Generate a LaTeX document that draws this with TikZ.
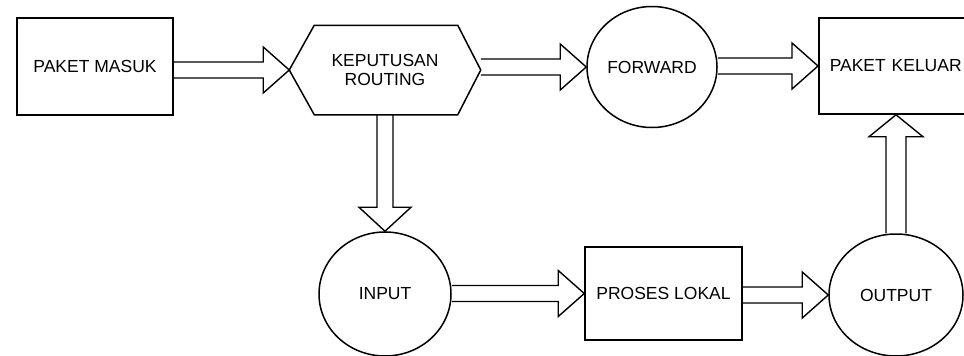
\documentclass[tikz,border=0pt]{standalone}
\usepackage{fontspec}
\setmainfont{Liberation Sans}
\usetikzlibrary{calc,shapes.geometric}
\newcommand\hblockarrow[2]{\draw[blk] let \p1=(#1.east), \p2=(#2.west) in
  (\x1,\y2+8pt) -- (\x2-26pt,\y2+8pt) -- (\x2-26pt,\y2+23pt) -- (\x2,\y2)
  -- (\x2-26pt,\y2-23pt) -- (\x2-26pt,\y2-8pt) -- (\x1,\y2-8pt);}
\newcommand\dblockarrow[2]{\draw[blk] let \p1=(#1.south), \p2=(#2.north) in
  (\x1-8pt,\y1) -- (\x1-8pt,\y2+24pt) -- (\x1-26pt,\y2+24pt) -- (\x1,\y2)
  -- (\x1+26pt,\y2+24pt) -- (\x1+8pt,\y2+24pt) -- (\x1+8pt,\y1);}
\newcommand\ublockarrow[2]{\draw[blk] let \p1=(#1.north), \p2=(#2.south) in
  (\x1-10pt,\y1) -- (\x1-10pt,\y2-22pt) -- (\x1-27pt,\y2-22pt) -- (\x1,\y2)
  -- (\x1+27pt,\y2-22pt) -- (\x1+10pt,\y2-22pt) -- (\x1+10pt,\y1);}
\begin{document}
\begin{tikzpicture}[x=1pt,y=-1pt,line width=1.5pt,
  lbl/.style={font=\fontsize{17.5}{18.5}\selectfont},
  boxnode/.style={draw,rectangle,lbl,inner sep=0pt},
  circnode/.style={draw,ellipse,lbl,inner sep=0pt},
  blk/.style={draw,line width=1.4pt,line join=miter}]
\useasboundingbox (0,0) rectangle (964,356);

\node[boxnode,minimum width=156pt,minimum height=97pt] (masuk) at (95,66.5) {PAKET MASUK};
\node[lbl,align=center,minimum width=190pt,minimum height=88pt,inner sep=0pt] (routing) at (385,70) {KEPUTUSAN\\ROUTING};
\draw (routing.west) -- ($(routing.north west)+(25,0)$) -- ($(routing.north east)+(-23,0)$)
  -- (routing.east) -- ($(routing.south east)+(-23,0)$) -- ($(routing.south west)+(25,0)$) -- cycle;
\node[circnode,minimum width=130pt,minimum height=121pt] (forward) at (652,67) {FORWARD};
\node[boxnode,anchor=west,minimum height=96pt,text width=138pt,inner xsep=11pt,align=left] (keluar) at (818,66) {PAKET KELUAR};
\node[circnode,minimum width=132pt,minimum height=124pt] (input) at (385,294) {INPUT};
\node[boxnode,minimum width=157pt,minimum height=93pt] (proses) at (663.5,293.5) {PROSES LOKAL};
\node[circnode,minimum width=134pt,minimum height=122pt] (output) at (896,295) {OUTPUT};

\hblockarrow{masuk}{routing}
\hblockarrow{routing}{forward}
\hblockarrow{forward}{keluar}
\hblockarrow{input}{proses}
\hblockarrow{proses}{output}
\dblockarrow{routing}{input}
\ublockarrow{output}{keluar}
\end{tikzpicture}
\end{document}
